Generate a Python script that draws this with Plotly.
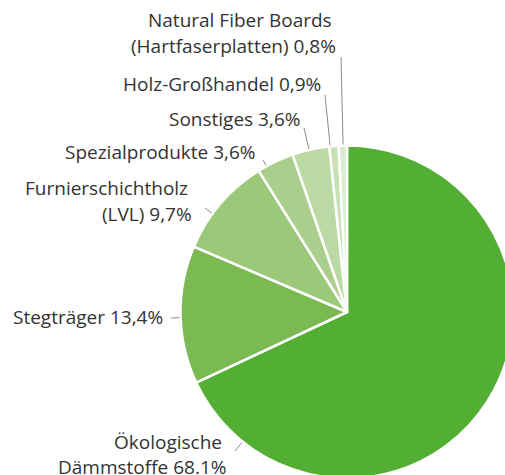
import math
import plotly.graph_objects as go

# ---- data ----
categories = [
    "Ökologische Dämmstoffe",
    "Stegträger",
    "Furnierschichtholz (LVL)",
    "Spezialprodukte",
    "Sonstiges",
    "Holz-Großhandel",
    "Natural Fiber Boards (Hartfaserplatten)",
]
shares = [68.1, 13.4, 9.7, 3.6, 3.6, 0.9, 0.8]
label_lines = [
    ["Ökologische", "Dämmstoffe 68.1%"],
    ["Stegträger 13,4%"],
    ["Furnierschichtholz", "(LVL) 9,7%"],
    ["Spezialprodukte 3,6%"],
    ["Sonstiges 3,6%"],
    ["Holz-Großhandel 0,9%"],
    ["Natural Fiber Boards", "(Hartfaserplatten) 0,8%"],
]
colors = ["#53AE34", "#7BB952", "#9CC879", "#AACF8C", "#BBD9A2", "#C8E1B5", "#DCEBD1"]

# ---- layout (pixels) ----
W, H = 520, 485
CX, CY, R = 347, 312, 166.5
FONT = dict(family="Open Sans", size=19, color="#333333")
LINE_GAP = 25
FIRST_LINE_SHIFT = 4
# label anchor (right edge x, centre y of block) and leader outer point
label_pos = [
    (228, 454, 235, 451),
    (165, 317, 171, 318),
    (194, 201, 205, 208),
    (258, 152, 263, 160),
    (302, 119, 304, 128),
    (323, 84, 325, 95),
    (338, 33, 341, 57),
]

def px(x):
    return x / W

def py(y):
    return 1 - y / H

fig = go.Figure(
    go.Pie(
        labels=categories,
        values=shares,
        sort=False,
        direction="clockwise",
        rotation=0,
        marker=dict(colors=colors, line=dict(color="white", width=2.5)),
        textinfo="none",
        hoverinfo="label+percent",
        domain=dict(x=[px(CX - R), px(CX + R)], y=[py(CY + R), py(CY - R)]),
        showlegend=False,
    )
)

annotations = []
shapes = []
for lines, (ax, ay, lx, ly) in zip(label_lines, label_pos):
    n = len(lines)
    for i, t in enumerate(lines):
        yy = ay + (i - (n - 1) / 2) * LINE_GAP
        xx = ax - (FIRST_LINE_SHIFT if (n > 1 and i == 0) else 0)
        annotations.append(dict(
            x=px(xx), y=py(yy), xref="paper", yref="paper", text=t,
            showarrow=False, xanchor="right", yanchor="middle",
            font=FONT,
        ))
    dx, dy = lx - CX, ly - CY
    d = math.hypot(dx, dy)
    ix, iy = CX + dx / d * (R + 1), CY + dy / d * (R + 1)
    shapes.append(dict(
        type="line", xref="paper", yref="paper",
        x0=px(lx), y0=py(ly), x1=px(ix), y1=py(iy),
        line=dict(color="#8c8c8c", width=1),
    ))

fig.update_layout(
    width=W, height=H, autosize=False,
    margin=dict(l=0, r=0, t=0, b=0),
    paper_bgcolor="white", plot_bgcolor="white",
    annotations=annotations, shapes=shapes,
)

fig.write_html(
    "out.html",
    config={"displayModeBar": False},
    post_script="document.body.style.margin='0';document.body.style.overflow='hidden';",
)
